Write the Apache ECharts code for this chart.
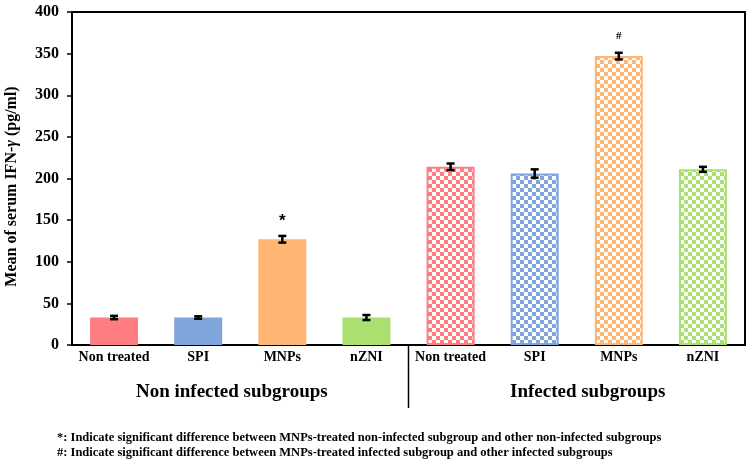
<!DOCTYPE html>
<html>
<head>
<meta charset="utf-8">
<script src="https://cdn.jsdelivr.net/npm/echarts@6/dist/echarts.min.js"></script>
<style>html,body{margin:0;padding:0;background:#fff;}#c{width:750px;height:471px;}</style>
</head>
<body>
<div id="c"></div>
<script>
const categories = ['Non treated', 'SPI', 'MNPs', 'nZNI', 'Non treated', 'SPI', 'MNPs', 'nZNI'];
const groupLabels = ['Non infected subgroups', 'Infected subgroups'];
const means = [33, 33, 127, 33, 214, 206, 347, 211];
const errors = [2, 1.5, 4, 3, 4, 5, 4, 3];
const marks = ['', '', '*', '', '', '', '#', ''];
const infected = [false, false, false, false, true, true, true, true];
const barColors = ['#FF7C80', '#7FA6DC', '#FFB574', '#A9E070', '#FF7C80', '#7FA6DC', '#FFB574', '#A9E070'];
const yTicks = { min: 0, max: 400, interval: 50 };
const footnotes = [
  '*: Indicate significant difference between MNPs-treated non-infected subgroup and other non-infected subgroups',
  '#: Indicate significant difference between MNPs-treated infected subgroup and other infected subgroups'
];

function checker(color) {
  const c = document.createElement('canvas');
  c.width = 8; c.height = 8;
  const ctx = c.getContext('2d');
  ctx.fillStyle = color; ctx.fillRect(0, 0, 8, 8);
  ctx.fillStyle = '#ffffff';
  ctx.fillRect(0, 0, 4, 4);
  ctx.fillRect(4, 4, 4, 4);
  return c;
}

const FONT = '"Liberation Serif", "Times New Roman", serif';
const chart = echarts.init(document.getElementById('c'), null, { renderer: 'canvas' });

const barData = means.map((v, i) => ({
  value: v,
  itemStyle: infected[i]
    ? { color: { image: checker(barColors[i]), repeat: 'repeat' }, borderColor: barColors[i], borderWidth: 2 }
    : { color: barColors[i] }
}));

const errData = means.map((v, i) => [i, v, errors[i], marks[i]]);

chart.setOption({
  animation: false,
  backgroundColor: '#fff',
  grid: { left: 72, right: 5, top: 12, bottom: 126, containLabel: false, outerBoundsMode: 'none',
    show: true, borderColor: '#000', borderWidth: 2, backgroundColor: 'transparent' },
  xAxis: {
    type: 'category',
    data: categories,
    axisLine: { lineStyle: { color: '#000', width: 2 } },
    axisTick: { alignWithLabel: true, length: 4, lineStyle: { color: '#000', width: 1 } },
    axisLabel: { color: '#000', fontFamily: FONT, fontWeight: 'bold', fontSize: 14, margin: 5, interval: 0 }
  },
  yAxis: {
    type: 'value',
    min: yTicks.min, max: yTicks.max, interval: yTicks.interval,
    name: 'Mean of serum IFN-{i|γ} (pg/ml)',
    nameLocation: 'middle',
    nameGap: 52,
    nameRotate: 90,
    nameTextStyle: { color: '#000', fontFamily: FONT, fontWeight: 'bold', fontSize: 16, padding: [0, 16, 0, 0],
      rich: { i: { fontStyle: 'italic', fontFamily: FONT, fontWeight: 'bold', fontSize: 16, color: '#000' } } },
    splitLine: { show: false },
    axisLine: { show: true, lineStyle: { color: '#000', width: 2 } },
    axisTick: { show: true, length: 5, lineStyle: { color: '#000', width: 1.5 } },
    axisLabel: { color: '#000', fontFamily: FONT, fontWeight: 'bold', fontSize: 16, margin: 13 }
  },
  series: [
    {
      type: 'bar',
      data: barData,
      barWidth: 48,
      z: 2
    },
    {
      type: 'custom',
      data: errData,
      z: 5,
      renderItem: function (params, api) {
        const x = api.value(0), m = api.value(1), e = api.value(2);
        const mk = errData[params.dataIndex][3];
        const top = api.coord([x, m + e]);
        const bot = api.coord([x, m - e]);
        const cw = 4;
        const st = { stroke: '#000', lineWidth: 2.5 };
        const children = [
          { type: 'line', shape: { x1: top[0], y1: top[1], x2: bot[0], y2: bot[1] }, style: st },
          { type: 'line', shape: { x1: top[0] - cw, y1: top[1], x2: top[0] + cw, y2: top[1] }, style: st },
          { type: 'line', shape: { x1: bot[0] - cw, y1: bot[1], x2: bot[0] + cw, y2: bot[1] }, style: st }
        ];
        if (mk) {
          children.push({
            type: 'text',
            style: {
              text: mk, x: top[0], y: top[1] - (mk === '*' ? 15 : 17),
              align: 'center', verticalAlign: 'middle',
              fill: '#000',
              font: mk === '*' ? 'bold 17px "Liberation Sans", Arial, sans-serif' : 'bold 11px ' + FONT
            }
          });
        }
        return { type: 'group', children: children };
      }
    }
  ]
});

function drawExtras() {
  const x0 = chart.convertToPixel({ xAxisIndex: 0 }, 0);
  const x1 = chart.convertToPixel({ xAxisIndex: 0 }, 1);
  const step = x1 - x0;
  const xL = x1 + 0.4 * step;
  const xR = chart.convertToPixel({ xAxisIndex: 0 }, 5) + 0.63 * step;
  const xDiv = chart.convertToPixel({ xAxisIndex: 0 }, 3) + step / 2;
  const yBase = chart.convertToPixel({ yAxisIndex: 0 }, 0);
  chart.setOption({
    graphic: [
      { type: 'line', shape: { x1: xDiv, y1: yBase, x2: xDiv, y2: yBase + 63 }, style: { stroke: '#000', lineWidth: 1.5 } },
      { type: 'text', x: xL, y: yBase + 47, style: { text: groupLabels[0], align: 'center', verticalAlign: 'middle', fill: '#000', font: 'bold 19px ' + FONT } },
      { type: 'text', x: xR, y: yBase + 47, style: { text: groupLabels[1], align: 'center', verticalAlign: 'middle', fill: '#000', font: 'bold 19px ' + FONT } },
      { type: 'text', x: 57, y: 438, style: { text: footnotes[0], verticalAlign: 'middle', fill: '#000', font: 'bold 12.5px ' + FONT } },
      { type: 'text', x: 57, y: 453, style: { text: footnotes[1], verticalAlign: 'middle', fill: '#000', font: 'bold 12.5px ' + FONT } }
    ]
  });
}
drawExtras();
</script>
</body>
</html>
